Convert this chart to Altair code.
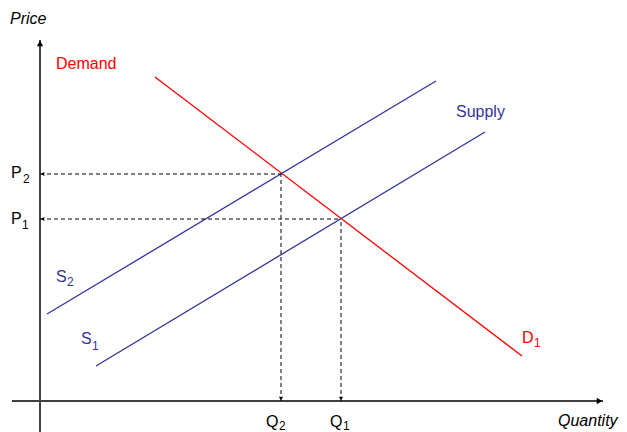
import altair as alt
import pandas as pd

# Curves (endpoints in quantity / price units)
curve_names = ["Demand", "S2", "S1"]
curve_q0 = [11.5, 0.7, 5.6]
curve_p0 = [32.4, 8.7, 3.5]
curve_q1 = [48.2, 39.6, 44.5]
curve_p1 = [4.5, 32.0, 26.9]
curve_colors = ["#ff0000", "#333399", "#333399"]

# Equilibria
eq_names = ["E2", "E1"]
eq_q = [24.1, 30.1]
eq_p = [22.7, 18.2]

# Axis extents
x_axis_q = [-2.8, 56.3]
y_axis_p = [-3.2, 36.1]

# Labels: main text, subscript, colour
main_labels = ["Demand", "Supply", "P", "P", "Q", "Q", "S", "S", "D"]
main_q = [1.6, 41.6, -2.9, -2.9, 22.6, 29.0, 1.6, 4.1, 48.2]
main_p = [33.2, 28.4, 22.3, 17.7, -2.6, -2.6, 11.9, 5.7, 5.8]
main_col = ["#ff0000", "#333399", "#000000", "#000000", "#000000", "#000000", "#333399", "#333399", "#ff0000"]

sub_labels = ["2", "1", "2", "1", "2", "1", "1"]
sub_q = [-1.7, -1.8, 23.9, 30.3, 2.7, 5.2, 49.4]
sub_p = [21.8, 17.2, -2.9, -2.9, 11.5, 5.1, 5.4]
sub_col = ["#000000", "#000000", "#000000", "#000000", "#333399", "#333399", "#ff0000"]

axis_titles = ["Price", "Quantity"]
title_q = [-3.0, 51.8]
title_p = [37.7, -2.5]

FONT = "Liberation Sans"
W, H = 611, 424
xs = alt.Scale(domain=[-3.2, -3.2 + W / 10], nice=False, zero=False)
ys = alt.Scale(domain=[39.3 - H / 10, 39.3], nice=False, zero=False)


def X(f):
    return alt.X(f, type="quantitative", scale=xs, axis=None)


def Y(f):
    return alt.Y(f, type="quantitative", scale=ys, axis=None)


curves = pd.DataFrame({"name": curve_names, "q0": curve_q0, "p0": curve_p0,
                       "q1": curve_q1, "p1": curve_p1, "c": curve_colors})
eq = pd.DataFrame({"name": eq_names, "q": eq_q, "p": eq_p, "zero": [0.0, 0.0]})
eq["qa"] = 0.25
eq["pa"] = 0.25

axes_df = pd.DataFrame({"q0": [x_axis_q[0], 0.0], "q1": [x_axis_q[1], 0.0],
                        "p0": [0.0, y_axis_p[0]], "p1": [0.0, y_axis_p[1]]})

x_axis = alt.Chart(axes_df.iloc[[0]]).mark_rule(color="#000000", strokeWidth=1.5).encode(
    x=X("q0"), x2="q1", y=Y("p0"), y2="p1")
y_axis = alt.Chart(axes_df.iloc[[1]]).mark_rule(color="#444444", strokeWidth=2).encode(
    x=X("q0"), x2="q1", y=Y("p0"), y2="p1")

arrow_df = pd.DataFrame({"q": [x_axis_q[1] - 0.35, 0.0], "p": [0.0, y_axis_p[1] - 0.35],
                         "shape": ["triangle-right", "triangle-up"]})
axis_arrows = alt.Chart(arrow_df).mark_point(filled=True, color="#000000", size=40, opacity=1).encode(
    x=X("q"), y=Y("p"), shape=alt.Shape("shape:N", scale=None))

curve_layer = alt.Chart(curves).mark_rule(strokeWidth=1.3).encode(
    x=X("q0"), x2="q1", y=Y("p0"), y2="p1", color=alt.Color("c:N", scale=None))

hdash = alt.Chart(eq).mark_rule(color="#000000", strokeWidth=1, strokeDash=[4, 3]).encode(
    x=X("zero"), x2="q", y=Y("p"))
vdash = alt.Chart(eq).mark_rule(color="#000000", strokeWidth=1, strokeDash=[4, 3]).encode(
    x=X("q"), y=Y("zero"), y2="p")
harrow = alt.Chart(eq).mark_point(shape="triangle-left", filled=True, color="#000000", size=18, opacity=1).encode(
    x=X("qa"), y=Y("p"))
varrow = alt.Chart(eq).mark_point(shape="triangle-down", filled=True, color="#000000", size=18, opacity=1).encode(
    x=X("q"), y=Y("pa"))

main_df = pd.DataFrame({"t": main_labels, "q": main_q, "p": main_p, "c": main_col})
sub_df = pd.DataFrame({"t": sub_labels, "q": sub_q, "p": sub_p, "c": sub_col})
title_df = pd.DataFrame({"t": axis_titles, "q": title_q, "p": title_p})

main_text = alt.Chart(main_df).mark_text(align="left", baseline="alphabetic", font=FONT, fontSize=16).encode(
    x=X("q"), y=Y("p"), text="t:N", color=alt.Color("c:N", scale=None))
sub_text = alt.Chart(sub_df).mark_text(align="left", baseline="alphabetic", font=FONT, fontSize=12).encode(
    x=X("q"), y=Y("p"), text="t:N", color=alt.Color("c:N", scale=None))
title_text = alt.Chart(title_df).mark_text(align="left", baseline="alphabetic", font=FONT, fontSize=16,
                                           fontStyle="italic", color="#000000").encode(
    x=X("q"), y=Y("p"), text="t:N")

chart = alt.layer(
    x_axis, y_axis, axis_arrows, curve_layer, hdash, vdash, harrow, varrow,
    main_text, sub_text, title_text
).properties(
    width=W, height=H, padding=0, background="#ffffff",
    autosize=alt.AutoSizeParams(type="none")
).configure_view(stroke=None)

chart.save("out.html", embed_options={"renderer": "svg", "actions": False})
